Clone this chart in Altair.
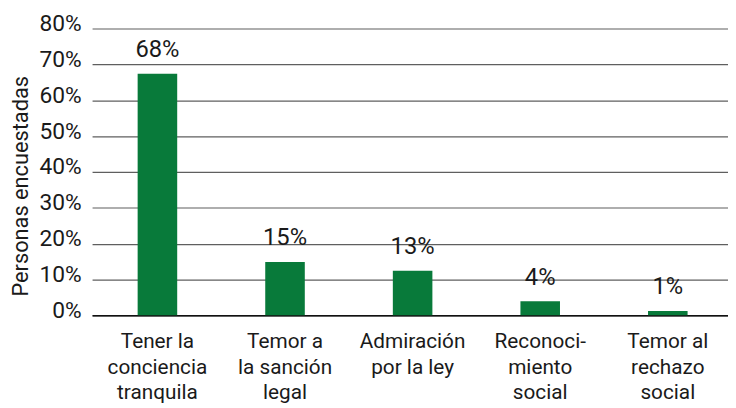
import altair as alt
import pandas as pd

categories = [
    "Tener la|conciencia|tranquila",
    "Temor a|la sanción|legal",
    "Admiración|por la ley",
    "Reconoci-|miento|social",
    "Temor al|rechazo|social",
]
values = [67.4, 14.9, 12.4, 3.9, 1.2]
value_labels = ["68%", "15%", "13%", "4%", "1%"]
y_ticks = [0, 10, 20, 30, 40, 50, 60, 70, 80]

FONT = "Roboto, sans-serif"
TXT = "#1a1a1a"

df = pd.DataFrame({"cat": categories, "val": values, "lab": value_labels})

x = alt.X(
    "cat:N",
    sort=categories,
    scale=alt.Scale(paddingInner=0.69, paddingOuter=0.337, align=0.53),
    axis=alt.Axis(
        title=None,
        labelAngle=0,
        labelExpr="split(datum.label, '|')",
        labelFont=FONT,
        labelFontSize=21,
        labelColor=TXT,
        labelBaseline="alphabetic",
        labelPadding=32.5,
        labelLineHeight=26,
        labelLimit=300,
        labelOverlap=False,
        ticks=False,
        domain=True,
        domainColor="#111111",
        domainWidth=1.5,
        grid=False,
    ),
)
y = alt.Y(
    "val:Q",
    scale=alt.Scale(domain=[0, 80], nice=False),
    axis=alt.Axis(
        values=y_ticks,
        labelExpr="datum.value + '%'",
        labelFont=FONT,
        labelFontSize=23,
        labelColor=TXT,
        labelPadding=11,
        labelBaseline="alphabetic",
        labelOffset=2,
        ticks=False,
        domain=False,
        grid=True,
        gridColor="#5f5f5f",
        gridWidth=1.2,
        title="Personas encuestadas",
        titleFont=FONT,
        titleFontSize=22,
        titleFontWeight="normal",
        titleColor=TXT,
        titleAngle=270,
        titleAlign="center",
        titleBaseline="alphabetic",
        titleX=-65,
        titleY=159,
    ),
)

base = alt.Chart(df).encode(x=x, y=y)
bars = base.mark_bar(color="#087a3a")
text = base.mark_text(
    dy=-17, baseline="alphabetic", align="center", font=FONT, fontSize=24, color=TXT
).encode(text="lab:N")

chart = (
    alt.layer(bars, text)
    .properties(
        width=643,
        height=290,
        autosize=alt.AutoSizeParams(type="none"),
        padding={"left": 85, "top": 18.5, "right": 0, "bottom": 91.5},
        background="white",
    )
    .configure_view(stroke=None)
)

chart.save("out.html", embed_options={"renderer": "svg", "actions": False})
